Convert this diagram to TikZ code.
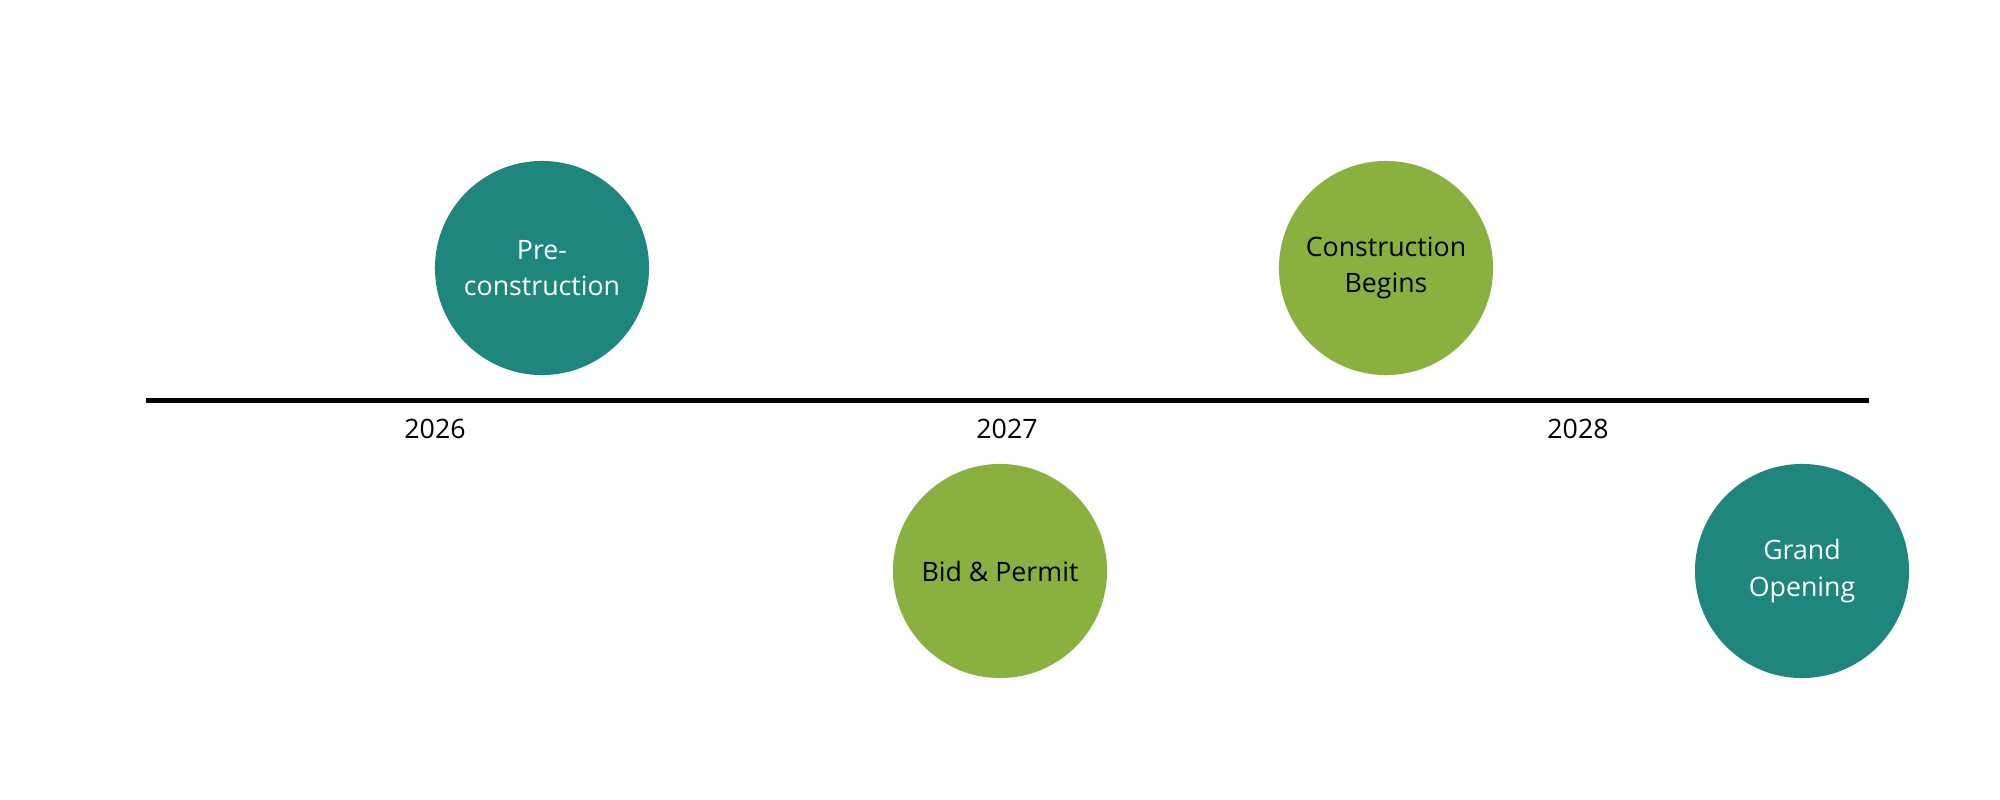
\documentclass[tikz,border=0pt]{standalone}
\usepackage{fontspec}
\setmainfont{Open Sans}
\definecolor{tealc}{RGB}{31,134,125}
\definecolor{greenc}{RGB}{138,177,64}
\begin{document}
\begin{tikzpicture}[x=0.01cm,y=-0.01cm,
  milestone/.style={circle, minimum size=2.14cm, inner sep=0pt, align=center,
    font=\fontsize{7.6}{10.3}\selectfont},
  tealstone/.style={milestone, fill=tealc, text=white},
  greenstone/.style={milestone, fill=greenc, text=black},
  yearlabel/.style={font=\fontsize{7.6}{10.3}\selectfont, text=black, inner sep=0pt},
  axis/.style={line width=1.3pt, draw=black}]
\useasboundingbox (0,0) rectangle (2000,800);
\fill[white] (0,0) rectangle (2000,800);
\coordinate (L) at (146,400.5);
\coordinate (R) at (1869,400.5);
\draw[axis] (L) -- (R);
\node[tealstone] (pre) at (542,268) {Pre-\\construction};
\node[greenstone] (bid) at (1000,571) {Bid \& Permit};
\node[greenstone] (cons) at (1386,268) {Construction\\Begins};
\node[tealstone] (grand) at (1802,571) {Grand\\Opening};
\node[yearlabel] (y26) at (435,429) {2026};
\node[yearlabel] (y27) at (1007,429) {2027};
\node[yearlabel] (y28) at (1578,429) {2028};
\end{tikzpicture}
\end{document}
